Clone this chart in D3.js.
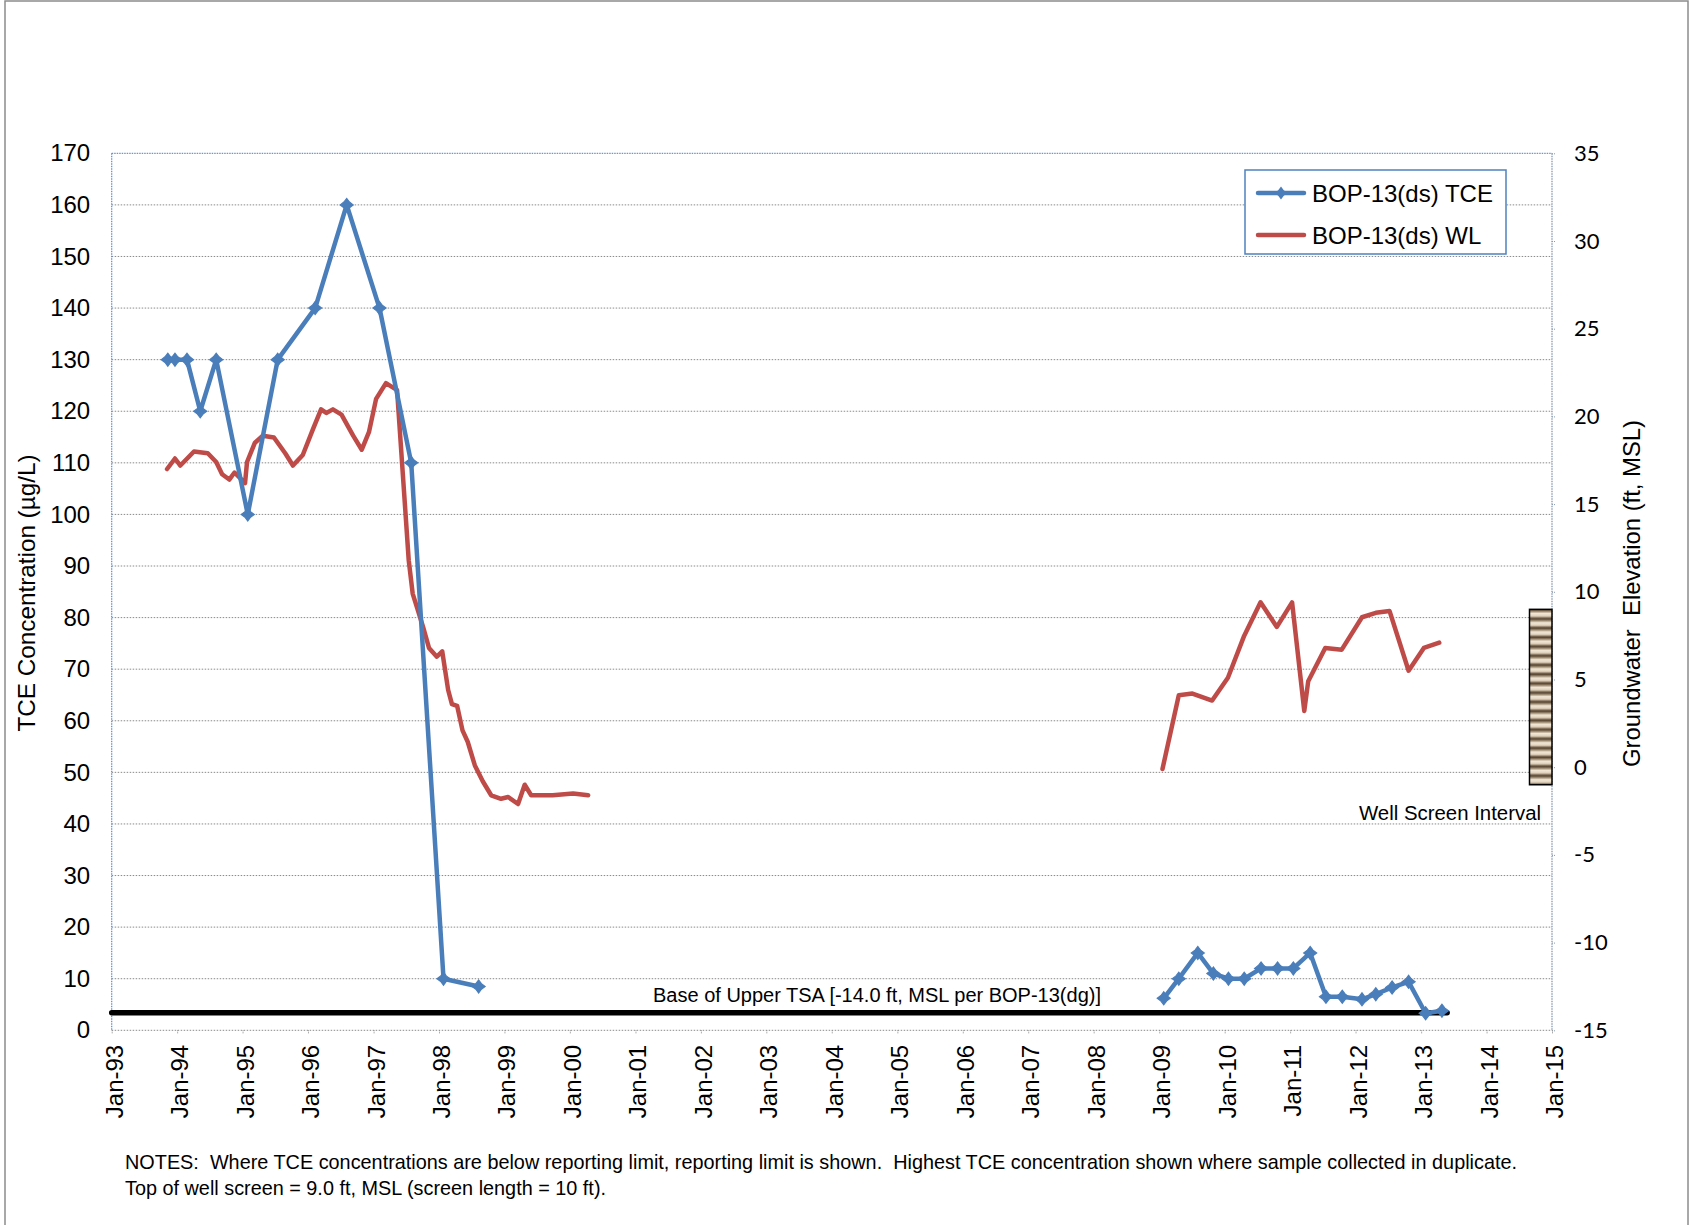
<!DOCTYPE html>
<html>
<head>
<meta charset="utf-8">
<script src="https://cdn.jsdelivr.net/npm/d3@7"></script>
<style>
  html, body { margin: 0; padding: 0; background: #fff; }
  svg { display: block; }
  svg text { white-space: pre; }
</style>
</head>
<body>
<svg id="chart" width="1690" height="1225"></svg>
<script>
// ---------------- DATA ----------------
const tceDates = ["1993-11-10","1993-12-20","1994-02-25","1994-05-10","1994-08-07","1995-01-30","1995-07-16","1996-02-10","1996-08-04","1997-02-03","1997-07-30","1998-01-26","1998-08-10",
  "2009-01-26","2009-04-20","2009-08-04","2009-10-30","2010-01-22","2010-04-20","2010-07-23","2010-10-23","2011-01-19","2011-04-23","2011-07-20","2011-10-19","2012-02-06","2012-04-23","2012-07-23","2012-10-23","2013-01-26","2013-04-27"];
const tceValues = [130,130,130,120,130,100,130,140,160,140,110,10,8.5,
  6.2,10,15,11,10,10,12,12,12,15,6.5,6.5,6,7,8.3,9.4,3.3,3.8];

const wlDates = ["1993-11-06","1993-12-20","1994-01-19","1994-04-05","1994-06-21","1994-08-07","1994-09-09","1994-10-19","1994-11-17","1995-01-15","1995-01-26","1995-03-11","1995-04-24","1995-06-25","1995-08-27","1995-10-09","1995-12-03","1996-01-30","1996-03-14","1996-04-12","1996-05-19","1996-07-06","1996-09-09","1996-10-27","1996-12-06","1997-01-15","1997-03-11","1997-05-12","1997-07-16","1997-08-07","1997-10-04","1997-11-06","1997-12-20","1998-01-19","1998-02-21","1998-03-14","1998-04-12","1998-05-12","1998-06-10","1998-07-20","1998-09-02","1998-10-19","1998-12-13","1999-01-22","1999-03-18","1999-04-24","1999-05-30","1999-09-27","2000-01-19","2000-04-12",
  "2009-01-19","2009-04-20","2009-07-05","2009-10-23","2010-01-19","2010-04-20","2010-07-20","2010-10-19","2011-01-12","2011-03-21","2011-04-12","2011-07-16","2011-10-16","2012-02-06","2012-04-23","2012-07-09","2012-10-23","2013-01-16","2013-04-12"];
const wlValues = [17.0,17.6,17.2,18.0,17.9,17.4,16.7,16.4,16.8,16.2,17.4,18.5,18.9,18.8,17.9,17.2,17.8,19.3,20.4,20.2,20.4,20.1,18.9,18.1,19.1,21.0,21.9,21.5,11.8,9.9,8.0,6.8,6.3,6.6,4.4,3.6,3.5,2.1,1.45,0.1,-0.8,-1.6,-1.8,-1.7,-2.1,-1.0,-1.6,-1.6,-1.5,-1.6,
  -0.1,4.1,4.2,3.8,5.1,7.5,9.4,8.0,9.4,3.2,4.9,6.8,6.7,8.55,8.8,8.9,5.5,6.8,7.1];

const leftTicks = [0,10,20,30,40,50,60,70,80,90,100,110,120,130,140,150,160,170];
const rightTicks = [-15,-10,-5,0,5,10,15,20,25,30,35];
const xTickYears = d3.range(1993, 2016);

const seriesNames = ["BOP-13(ds) TCE", "BOP-13(ds) WL"];
const baseUpperTSA = -14.0;          // ft MSL
const baseLineEnd = "2013-05-26";
const wellScreenTop = 9.0;           // ft MSL
const wellScreenLength = 10;         // ft

const leftTitle = "TCE Concentration (\u00b5g/L)";
const rightTitle = "Groundwater  Elevation (ft, MSL)";
const baseLabel = "Base of Upper TSA [-14.0 ft, MSL per BOP-13(dg)]";
const wellLabel = "Well Screen Interval";
const notes = ["NOTES:  Where TCE concentrations are below reporting limit, reporting limit is shown.  Highest TCE concentration shown where sample collected in duplicate.",
               "Top of well screen = 9.0 ft, MSL (screen length = 10 ft)."];

// ---------------- LAYOUT ----------------
const svg = d3.select("#chart");
const P = { left: 111.7, right: 1552, top: 153.3, bottom: 1030.3 };
const FONT = "'Liberation Sans', Arial, sans-serif";
const BLUE = "#4A7EBB", RED = "#BE4B48";

const parse = d3.timeParse("%Y-%m-%d");
const x = d3.scaleTime().domain([new Date(1993,0,1), new Date(2015,0,1)]).range([P.left, P.right]);
const yL = d3.scaleLinear().domain([0,170]).range([P.bottom, P.top]);
const yR = d3.scaleLinear().domain([-15,35]).range([P.bottom, P.top]);

// outer frame
svg.append("rect").attr("x",5).attr("y",1).attr("width",1683).attr("height",1240)
  .attr("fill","none").attr("stroke","#8c8c8c").attr("stroke-width",1.5);

// gridlines
svg.append("g").selectAll("line").data(leftTicks.filter(d => d < 170)).join("line")
  .attr("x1",P.left).attr("x2",P.right).attr("y1",d=>yL(d)).attr("y2",d=>yL(d))
  .attr("stroke","#8a8a8a").attr("stroke-width",1).attr("stroke-dasharray","1.5,1.5");

// plot border (top, left, right) dotted
svg.append("line").attr("x1",P.left).attr("x2",P.right).attr("y1",P.top).attr("y2",P.top)
  .attr("stroke","#6f95c8").attr("stroke-width",1.2).attr("stroke-dasharray","1.5,1");
svg.append("line").attr("x1",P.left).attr("x2",P.left).attr("y1",P.top).attr("y2",P.bottom)
  .attr("stroke","#5b8ad0").attr("stroke-width",1.2).attr("stroke-dasharray","1.5,1");
svg.append("line").attr("x1",P.right).attr("x2",P.right).attr("y1",P.top).attr("y2",P.bottom)
  .attr("stroke","#7d8fa8").attr("stroke-width",1.2).attr("stroke-dasharray","1.5,1");

// left axis
const gL = svg.append("g").attr("transform",`translate(${P.left},0)`)
  .call(d3.axisLeft(yL).tickValues(leftTicks).tickSize(0).tickPadding(21.5));
gL.select(".domain").remove();
gL.selectAll("text").attr("font-family",FONT).attr("font-size",24).attr("fill","#000");

// right axis
const gR = svg.append("g").attr("transform",`translate(${P.right},0)`)
  .call(d3.axisRight(yR).tickValues(rightTicks).tickSize(4).tickPadding(18).tickFormat(d => String(d)));
gR.select(".domain").remove();
gR.selectAll("line").attr("stroke","#8a9ab0").attr("stroke-dasharray","1,1");
gR.selectAll("text").attr("font-family","Lato, 'Open Sans', sans-serif").attr("font-size",22).attr("fill","#000");

// bottom axis
const gB = svg.append("g").attr("transform",`translate(0,${P.bottom})`)
  .call(d3.axisBottom(x).tickValues(xTickYears.map(yy => new Date(yy,0,1))).tickSize(4)
        .tickFormat(d3.timeFormat("Jan-%y")));
gB.select(".domain").remove();
gB.selectAll("line").attr("stroke","#8a8a8a").attr("stroke-dasharray","1,1");
gB.selectAll("text").attr("font-family",FONT).attr("font-size",24).attr("fill","#000")
  .attr("transform","rotate(-90)").attr("text-anchor","end")
  .attr("x",-14.5).attr("y",10.5).attr("dy",0);

// axis titles
svg.append("text").attr("transform",`translate(35,593) rotate(-90)`).attr("text-anchor","middle")
  .attr("font-family",FONT).attr("font-size",24).attr("textLength",277).attr("lengthAdjust","spacingAndGlyphs")
  .text(leftTitle);
svg.append("text").attr("transform",`translate(1640,593.5) rotate(-90)`).attr("text-anchor","middle")
  .attr("font-family",FONT).attr("font-size",24).attr("textLength",347).attr("lengthAdjust","spacingAndGlyphs")
  .text(rightTitle);

// well screen interval
const defs = svg.append("defs");
const grad = defs.append("linearGradient").attr("id","stripeGrad").attr("x1",0).attr("y1",0).attr("x2",0).attr("y2",1);
[[0,"#4a3826"],[0.18,"#8c785e"],[0.45,"#f0e6d4"],[0.72,"#e3d5bf"],[1,"#574430"]].forEach(([o,c]) =>
  grad.append("stop").attr("offset",o).attr("stop-color",c));
const wsTopY = yR(wellScreenTop), wsBotY = yR(wellScreenTop - wellScreenLength);
const stripeH = (wsBotY - wsTopY) / 19;
const pat = defs.append("pattern").attr("id","stripes").attr("patternUnits","userSpaceOnUse")
  .attr("x",0).attr("y",wsTopY).attr("width",40).attr("height",stripeH);
pat.append("rect").attr("width",40).attr("height",stripeH).attr("fill","url(#stripeGrad)");
svg.append("rect").attr("x",1529.5).attr("y",wsTopY).attr("width",P.right-1529.5).attr("height",wsBotY-wsTopY)
  .attr("fill","url(#stripes)").attr("stroke","#000").attr("stroke-width",1.5);
svg.append("text").attr("x",1541).attr("y",819.5).attr("text-anchor","end")
  .attr("font-family",FONT).attr("font-size",20).attr("textLength",182).attr("lengthAdjust","spacingAndGlyphs")
  .text(wellLabel);

// base of upper TSA line
svg.append("line").attr("x1",P.left).attr("x2",x(parse(baseLineEnd)))
  .attr("y1",yR(baseUpperTSA)).attr("y2",yR(baseUpperTSA))
  .attr("stroke","#000").attr("stroke-width",5.5).attr("stroke-linecap","round");
svg.append("text").attr("x",877).attr("y",1002).attr("text-anchor","middle")
  .attr("font-family",FONT).attr("font-size",20).attr("textLength",448).attr("lengthAdjust","spacingAndGlyphs")
  .text(baseLabel);

// helper: split series where there is a long gap (blank cells)
function segments(dates, values) {
  const pts = dates.map((d,i) => ({ date: parse(d), v: values[i] }));
  const segs = [[]];
  pts.forEach((p,i) => {
    if (i > 0 && (p.date - pts[i-1].date) > 3*365*864e5) segs.push([]);
    segs[segs.length-1].push(p);
  });
  return segs;
}

// WL line
const lineR = d3.line().x(d => x(d.date)).y(d => yR(d.v));
svg.append("g").selectAll("path").data(segments(wlDates, wlValues)).join("path")
  .attr("d", lineR).attr("fill","none").attr("stroke",RED).attr("stroke-width",4.5)
  .attr("stroke-linejoin","round").attr("stroke-linecap","round");

// TCE line
const lineL = d3.line().x(d => x(d.date)).y(d => yL(d.v));
const tceSegs = segments(tceDates, tceValues);
svg.append("g").selectAll("path").data(tceSegs).join("path")
  .attr("d", lineL).attr("fill","none").attr("stroke",BLUE).attr("stroke-width",4.5)
  .attr("stroke-linejoin","round").attr("stroke-linecap","round");

// star-like diamond marker
function markerPath(r, ri) {
  return `M${-r},0 L${-ri},${-ri} L0,${-r} L${ri},${-ri} L${r},0 L${ri},${ri} L0,${r} L${-ri},${ri} Z`;
}
svg.append("g").selectAll("path").data(tceSegs.flat()).join("path")
  .attr("transform", d => `translate(${x(d.date)},${yL(d.v)})`)
  .attr("d", markerPath(6.5, 2.8)).attr("fill",BLUE).attr("stroke",BLUE).attr("stroke-width",1.2);

// legend
const lg = svg.append("g");
lg.append("rect").attr("x",1245).attr("y",170).attr("width",261).attr("height",84)
  .attr("fill","#fff").attr("stroke","#4F81BD").attr("stroke-width",1.5);
const legRows = [{name: seriesNames[0], color: BLUE, y: 193, marker: true},
                 {name: seriesNames[1], color: RED,  y: 235, marker: false}];
legRows.forEach(r => {
  lg.append("line").attr("x1",1258).attr("x2",1304).attr("y1",r.y).attr("y2",r.y)
    .attr("stroke",r.color).attr("stroke-width",4.5).attr("stroke-linecap","round");
  if (r.marker) lg.append("path").attr("transform",`translate(1281,${r.y})`)
    .attr("d", markerPath(6.5,2.8)).attr("fill",r.color);
  lg.append("text").attr("x",1312).attr("y",r.y+8.5).attr("font-family",FONT).attr("font-size",24)
    .attr("fill","#000").text(r.name);
});

// notes
svg.append("text").attr("x",125).attr("y",1169).attr("font-family",FONT).attr("font-size",21)
  .attr("textLength",1392).attr("lengthAdjust","spacingAndGlyphs").text(notes[0]);
svg.append("text").attr("x",125).attr("y",1195).attr("font-family",FONT).attr("font-size",21)
  .attr("textLength",481).attr("lengthAdjust","spacingAndGlyphs").text(notes[1]);
</script>
</body>
</html>
